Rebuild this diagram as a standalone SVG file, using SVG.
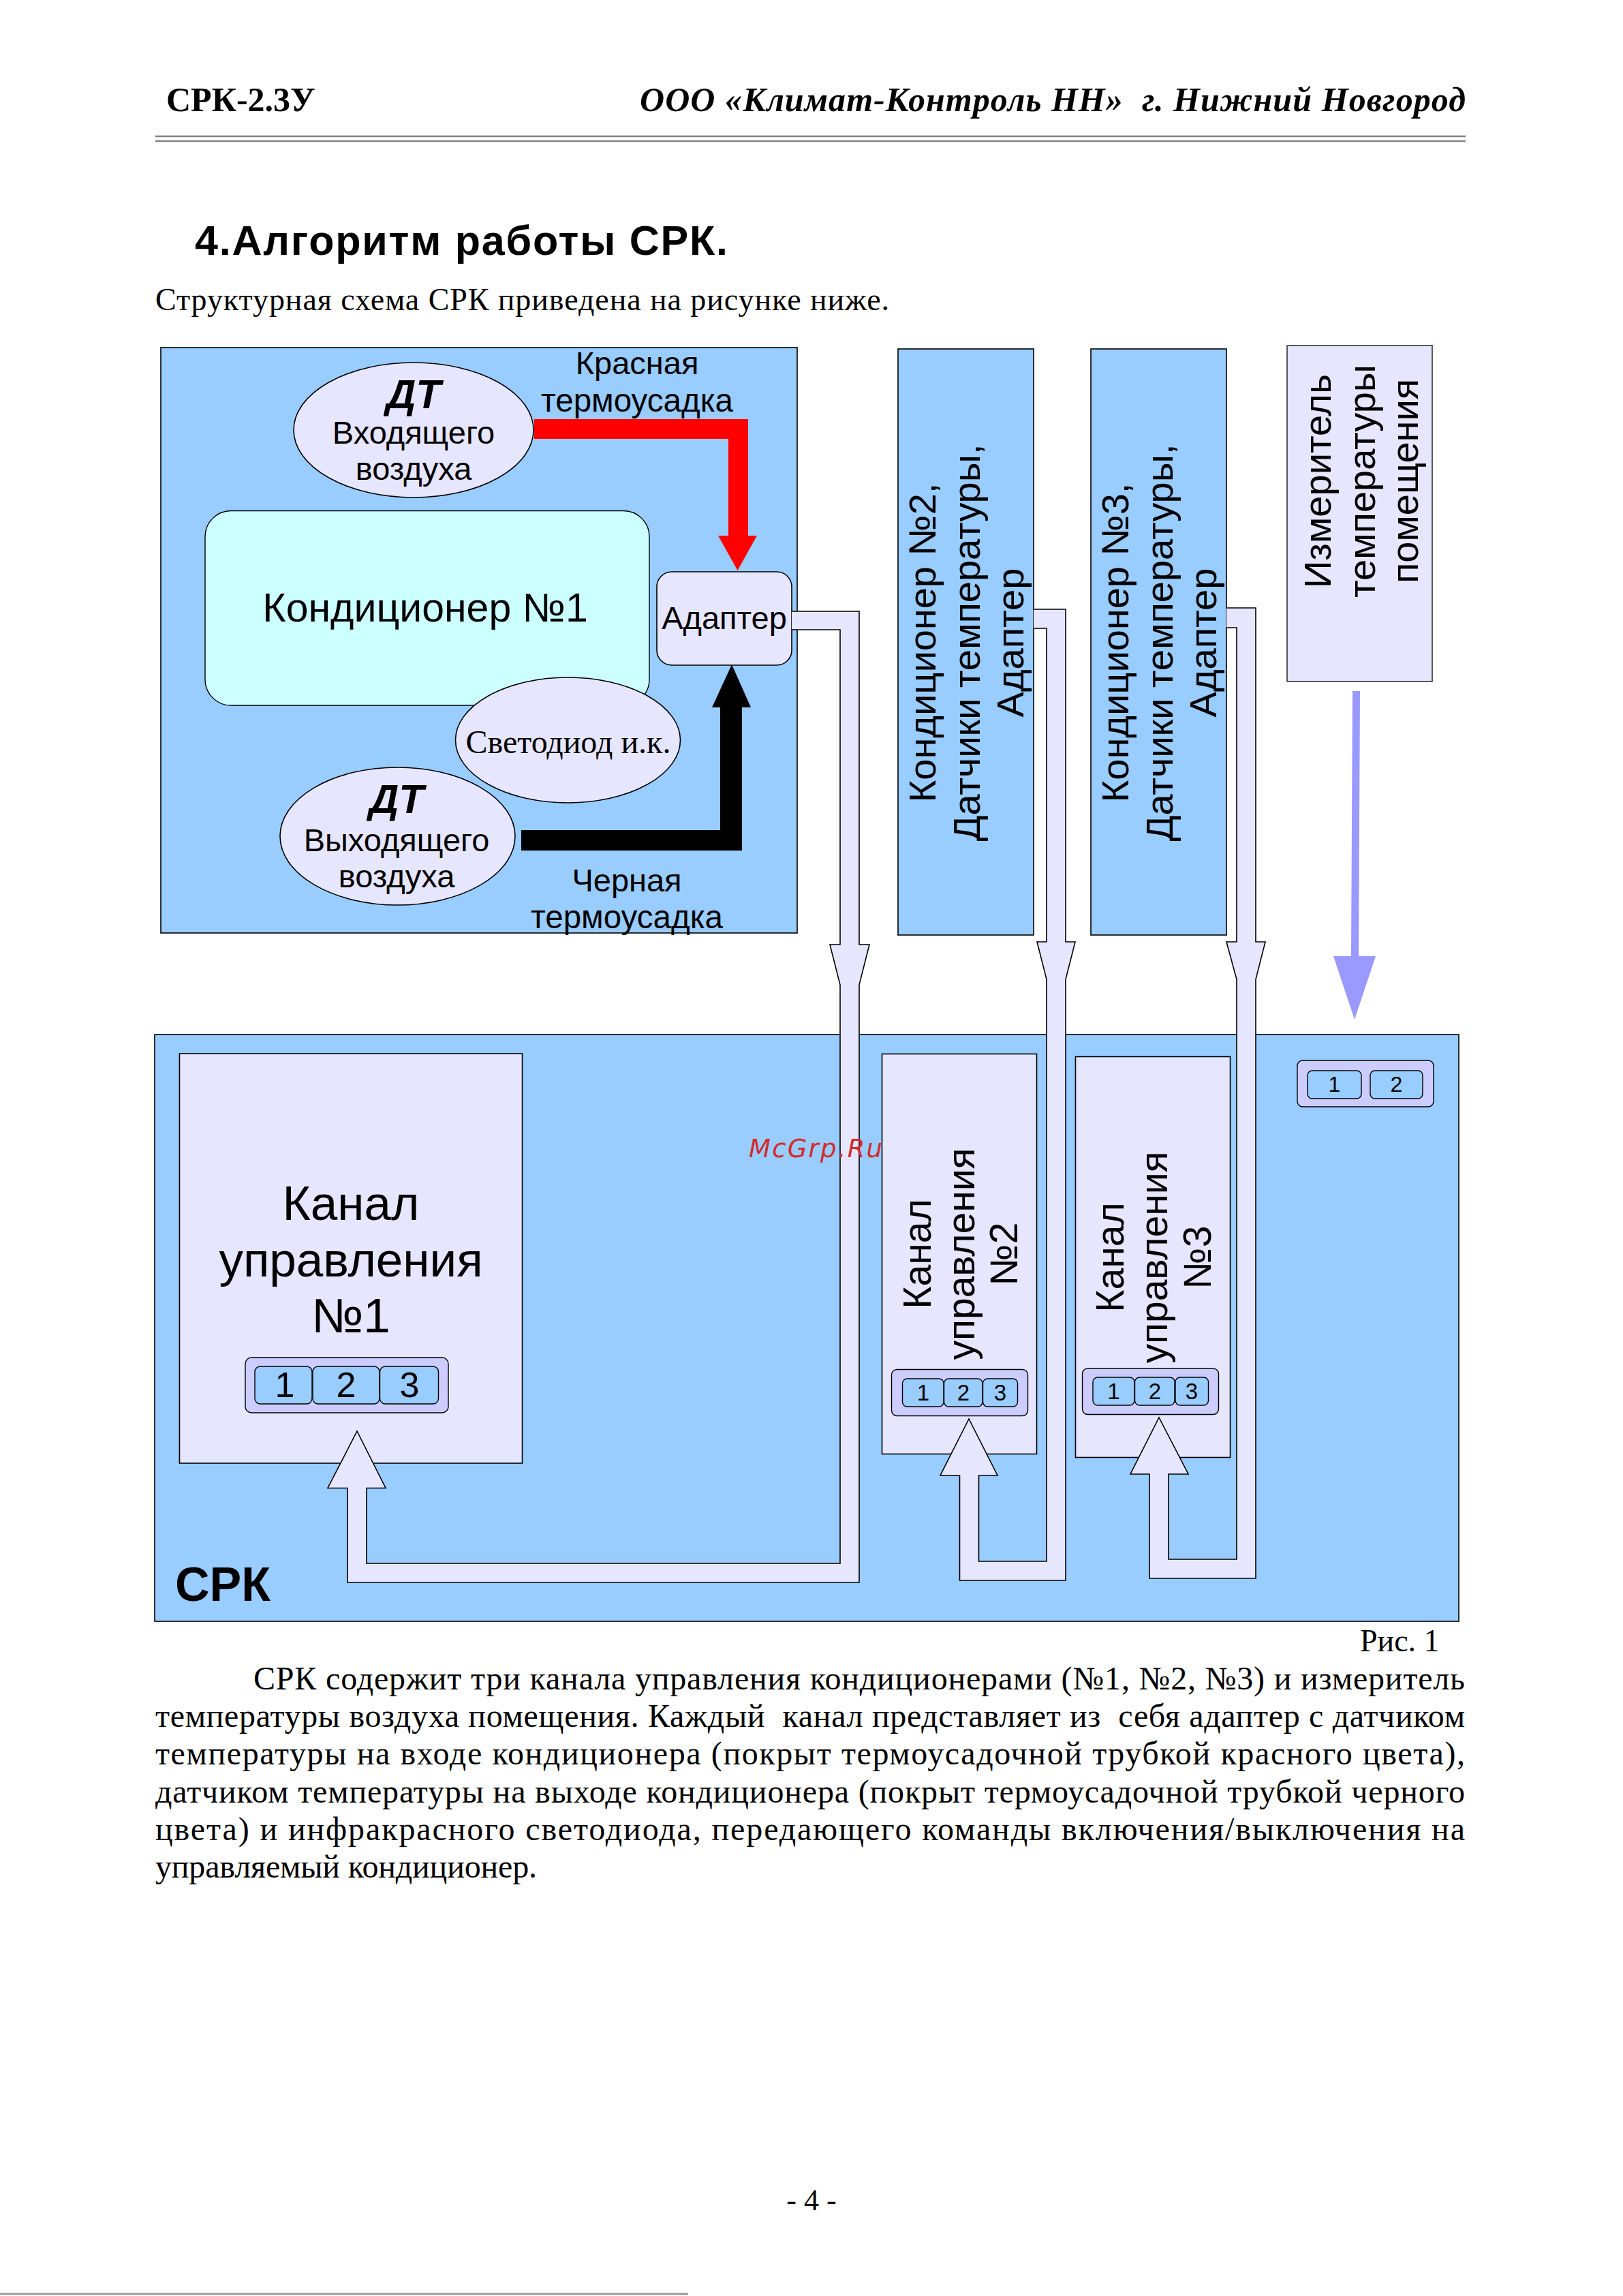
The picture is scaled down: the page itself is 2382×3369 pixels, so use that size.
<svg xmlns="http://www.w3.org/2000/svg" width="2382" height="3369" viewBox="0 0 2382 3369">
<style>
.sans{font-family:"Liberation Sans",Arial,sans-serif}
.serif{font-family:"Liberation Serif","Times New Roman",serif}
.pre{white-space:pre}
.blue{fill:#99CCFF;stroke:#000;stroke-width:1.6}
.lav{fill:#E6E6FF;stroke:#000;stroke-width:1.6}
.conn{fill:#CCCCFF;stroke:#000;stroke-width:1.4}
.btn{fill:#99CCFF;stroke:#000;stroke-width:1.4}
.pipe{fill:#E6E6FF;stroke:#000;stroke-width:1.6;stroke-linejoin:miter}
.mid{text-anchor:middle}
</style>
<rect x="0" y="0" width="2382" height="3369" fill="#FFFFFF"/>

<g id="header">
<text class="serif" x="244" y="163" font-size="50" font-weight="bold">СРК-2.3У</text>
<text class="serif pre" x="2151" y="163" font-size="50" font-weight="bold" font-style="italic" text-anchor="end" textLength="1212">ООО «Климат-Контроль НН»  г. Нижний Новгород</text>
<line x1="228" y1="200" x2="2151" y2="200" stroke="#808080" stroke-width="2.5"/>
<line x1="228" y1="207" x2="2151" y2="207" stroke="#808080" stroke-width="2.5"/>
<text class="sans" x="286" y="374" font-size="61" font-weight="bold" textLength="782">4.Алгоритм работы СРК.</text>
<text class="serif" x="228" y="455" font-size="46" textLength="1077">Структурная схема СРК приведена на рисунке ниже.</text>
</g>

<g id="unit1">
<rect class="blue" x="236" y="510" width="934" height="859"/>
<rect id="cond1" x="301" y="749.5" width="652" height="285.5" rx="38" ry="38" fill="#CCFFFF" stroke="#000" stroke-width="1.4"/>
<text class="sans mid" x="624" y="912" font-size="59">Кондиционер №1</text>
<g id="dt-in">
<ellipse class="lav" cx="607" cy="631" rx="176" ry="99"/>
<text class="sans mid" x="607" y="599" font-size="60" font-weight="bold" font-style="italic">ДТ</text>
<text class="sans mid" x="607" y="651" font-size="47">Входящего</text>
<text class="sans mid" x="607" y="704" font-size="47">воздуха</text>
</g>
<g id="led">
<ellipse class="lav" cx="833.5" cy="1086" rx="165" ry="92"/>
<text class="serif mid" x="834" y="1105" font-size="48">Светодиод и.к.</text>
</g>
<g id="dt-out">
<ellipse class="lav" cx="583.5" cy="1227" rx="172.5" ry="101"/>
<text class="sans mid" x="582" y="1193" font-size="60" font-weight="bold" font-style="italic">ДТ</text>
<text class="sans mid" x="582" y="1249" font-size="47">Выходящего</text>
<text class="sans mid" x="582" y="1302" font-size="47">воздуха</text>
</g>
<path id="red-arrow" d="M784,615 H1098 V786 H1111 L1082.5,837 L1054,786 H1069 V644 H784 Z" fill="#FF0000"/>
<path id="black-arrow" d="M765,1218 H1057 V1038 H1045 L1074,975 L1102,1038 H1089 V1248 H765 Z" fill="#000000"/>
<text class="sans mid" x="935" y="549" font-size="47">Красная</text>
<text class="sans mid" x="935" y="604" font-size="47.5">термоусадка</text>
<text class="sans mid" x="920" y="1308" font-size="47">Черная</text>
<text class="sans mid" x="920" y="1362" font-size="47.5">термоусадка</text>
<g id="adapter1">
<rect class="lav" x="964" y="839" width="198" height="137" rx="22" ry="22"/>
<text class="sans mid" x="1063" y="923" font-size="47">Адаптер</text>
</g>
</g>

<g id="unit2">
<rect class="blue" x="1318" y="512" width="199" height="860"/>
<g class="sans mid" font-size="56" transform="translate(0,943)">
<text transform="translate(1373,0) rotate(-90)">Кондиционер №2,</text>
<text transform="translate(1438,0) rotate(-90)">Датчики температуры,</text>
<text transform="translate(1502,0) rotate(-90)">Адаптер</text>
</g>
</g>

<g id="unit3">
<rect class="blue" x="1601" y="512" width="199" height="860"/>
<g class="sans mid" font-size="56" transform="translate(0,943)">
<text transform="translate(1656,0) rotate(-90)">Кондиционер №3,</text>
<text transform="translate(1721,0) rotate(-90)">Датчики температуры,</text>
<text transform="translate(1785,0) rotate(-90)">Адаптер</text>
</g>
</g>

<g id="meter">
<rect x="1889" y="507" width="213" height="493" fill="#E6E6FF" stroke="#333" stroke-width="1.6"/>
<g class="sans mid" font-size="56" transform="translate(0,706)">
<text transform="translate(1953,0) rotate(-90)">Измеритель</text>
<text transform="translate(2018,0) rotate(-90)">температуры</text>
<text transform="translate(2081,0) rotate(-90)">помещения</text>
</g>
</g>

<g id="srk">
<rect class="blue" x="227" y="1518" width="1914" height="861"/>
<text class="sans" x="257" y="2349" font-size="70" font-weight="bold">СРК</text>
</g>

<g id="channel1">
<rect class="lav" x="263.5" y="1546" width="503" height="601"/>
<text class="sans mid" x="515" y="1790" font-size="71">Канал</text>
<text class="sans mid" x="515" y="1873" font-size="71">управления</text>
<text class="sans mid" x="515" y="1955" font-size="71">№1</text>
<rect class="conn" x="360" y="1992" width="298" height="81" rx="9"/>
<rect class="btn" x="374" y="2005" width="84" height="55" rx="8"/>
<rect class="btn" x="459" y="2005" width="98" height="55" rx="8"/>
<rect class="btn" x="557.5" y="2005" width="86" height="55" rx="8"/>
<text class="sans mid" x="418" y="2050" font-size="52">1</text>
<text class="sans mid" x="508" y="2050" font-size="52">2</text>
<text class="sans mid" x="601" y="2050" font-size="52">3</text>
</g>

<g id="channel2">
<rect class="lav" x="1294.5" y="1546.5" width="227" height="587"/>
<g class="sans mid" font-size="57" transform="translate(0,1840)">
<text transform="translate(1366,0) rotate(-90)">Канал</text>
<text transform="translate(1430,0) rotate(-90)">управления</text>
<text transform="translate(1493,0) rotate(-90)">№2</text>
</g>
<rect class="conn" x="1308.5" y="2009.5" width="200" height="68" rx="8"/>
<rect class="btn" x="1324.5" y="2023" width="60.5" height="41" rx="7"/>
<rect class="btn" x="1385.5" y="2023" width="56.5" height="41" rx="7"/>
<rect class="btn" x="1442.5" y="2023" width="51" height="41" rx="7"/>
<text class="sans mid" x="1355" y="2055" font-size="33">1</text>
<text class="sans mid" x="1414" y="2055" font-size="33">2</text>
<text class="sans mid" x="1468" y="2055" font-size="33">3</text>
</g>

<g id="channel3">
<rect class="lav" x="1578.5" y="1550.5" width="227" height="588"/>
<g class="sans mid" font-size="57" transform="translate(0,1845)">
<text transform="translate(1649,0) rotate(-90)">Канал</text>
<text transform="translate(1713,0) rotate(-90)">управления</text>
<text transform="translate(1777,0) rotate(-90)">№3</text>
</g>
<rect class="conn" x="1588.5" y="2008" width="200" height="67.5" rx="8"/>
<rect class="btn" x="1604" y="2021" width="61" height="41" rx="7"/>
<rect class="btn" x="1665.5" y="2021" width="58.5" height="41" rx="7"/>
<rect class="btn" x="1725" y="2021" width="48.5" height="41" rx="7"/>
<text class="sans mid" x="1634.5" y="2053" font-size="33">1</text>
<text class="sans mid" x="1695" y="2053" font-size="33">2</text>
<text class="sans mid" x="1749" y="2053" font-size="33">3</text>
</g>

<g id="meter-port">
<rect class="conn" x="1904" y="1556" width="200" height="68" rx="8"/>
<rect class="btn" x="1919" y="1571" width="79" height="41" rx="7"/>
<rect class="btn" x="2011" y="1571" width="77" height="41" rx="7"/>
<text class="sans mid" x="1958.5" y="1602" font-size="32">1</text>
<text class="sans mid" x="2049.5" y="1602" font-size="32">2</text>
</g>

<g id="connectors">
<path class="pipe" d="M1162,897 H1261 V1386 H1276 L1261,1445 V2322 H510 V2183.5 H481 L524,2100 L566,2183.5 H538 V2294 H1233 V1445 L1218,1386 H1233 V924 H1162"/>
<path class="pipe" d="M1517,894 H1564 V1382 H1578 L1564,1437 V2319 H1408.5 V2165 H1380 L1422,2082 L1464,2165 H1436.5 V2291 H1536 V1437 L1522,1382 H1536 V922 H1517"/>
<path class="pipe" d="M1800,892 H1843 V1382 H1857 L1843,1437 V2316 H1687 V2163 H1659 L1701,2080 L1744,2163 H1715 V2288 H1815 V1437 L1800,1382 H1815 V921 H1800"/>
<path d="M1985,1014 H1996 L1994,1403 H2019 L1988,1496 L1957,1403 H1983 Z" fill="#9999FF"/>
</g>

<text id="watermark" x="1099" y="1698" font-family="DejaVu Sans, sans-serif" font-style="italic" font-size="37" fill="#D42B2B" textLength="196">McGrp.Ru</text>

<g id="caption" class="serif">
<text x="1996" y="2423" font-size="46">Рис. 1</text>
<g font-size="48">
<text class="pre" x="372" y="2479" textLength="1778">СРК содержит три канала управления кондиционерами (№1, №2, №3) и измеритель</text>
<text class="pre" x="228" y="2534" textLength="1922">температуры воздуха помещения. Каждый  канал представляет из  себя адаптер с датчиком</text>
<text class="pre" x="228" y="2589" textLength="1922">температуры на входе кондиционера (покрыт термоусадочной трубкой красного цвета),</text>
<text class="pre" x="228" y="2645" textLength="1922">датчиком температуры на выходе кондиционера (покрыт термоусадочной трубкой черного</text>
<text class="pre" x="228" y="2700" textLength="1922">цвета) и инфракрасного светодиода, передающего команды включения/выключения на</text>
<text class="pre" x="228" y="2755" textLength="560">управляемый кондиционер.</text>
</g>
<text x="1191" y="3243" font-size="44" text-anchor="middle">- 4 -</text>
</g>
<line x1="0" y1="3366" x2="1010" y2="3366" stroke="#999999" stroke-width="3"/>
</svg>
